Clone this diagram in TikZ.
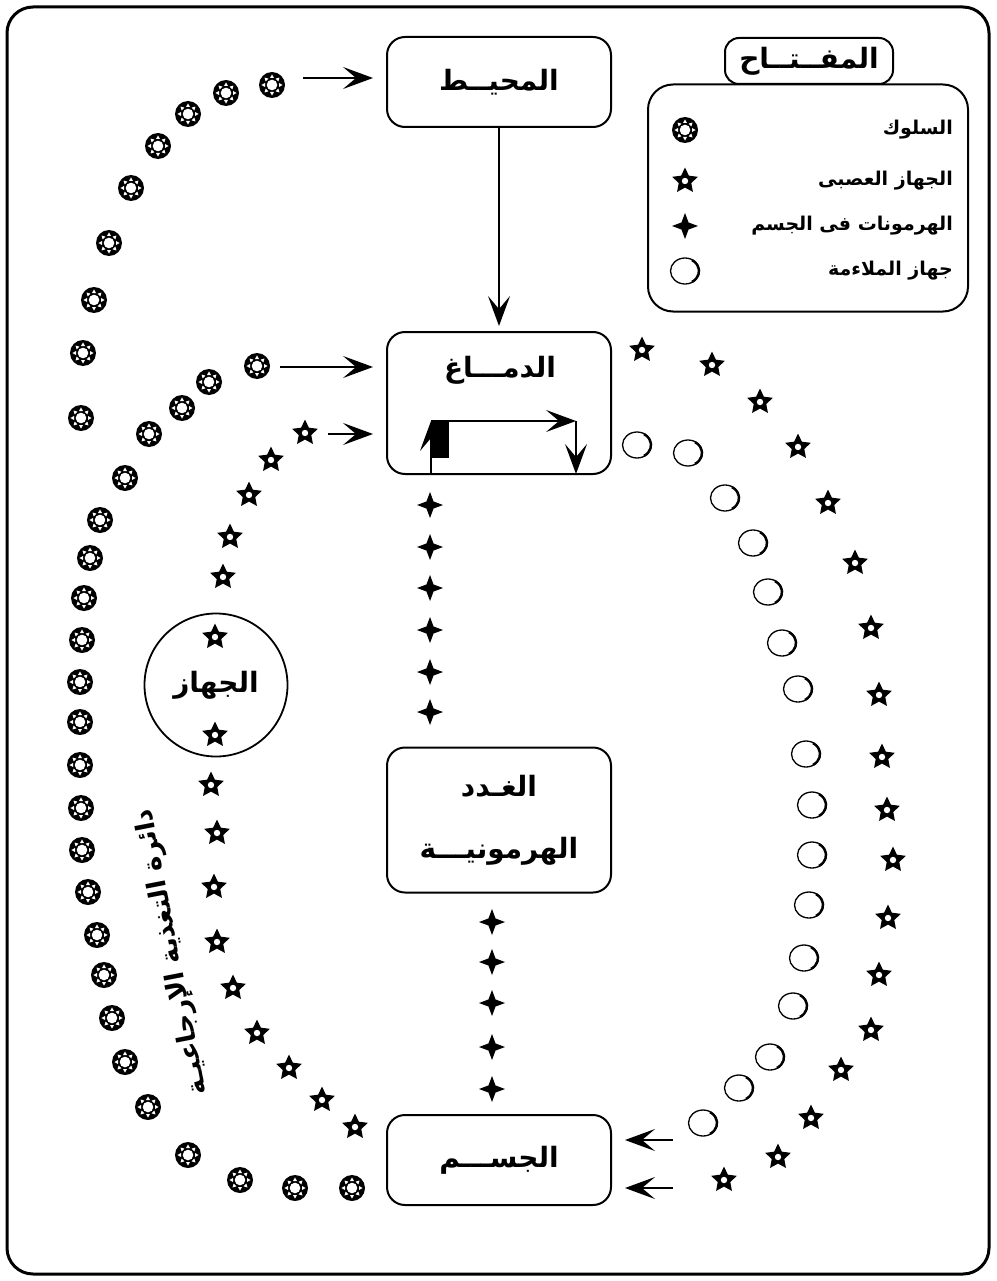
\documentclass[tikz,border=0pt]{standalone}
\usepackage{fontspec}
\newfontfamily\arabicfont[Script=Arabic]{DejaVu Sans}
\TeXXeTstate=1
\usetikzlibrary{shapes,arrows,arrows.meta}
\usetikzlibrary{positioning,shapes.geometric}
\newcommand{\artxt}[1]{\beginR #1\endR}
\tikzset{box/.style={draw, line width=2pt, rounded corners=18pt, minimum width=224pt,
    inner sep=0pt, align=center, font=\arabicfont\bfseries\fontsize{28}{62}\selectfont},
boxtext/.style={font=\arabicfont\bfseries\fontsize{28}{34}\selectfont},
keytext/.style={font=\arabicfont\bfseries\fontsize{19}{24}\selectfont, inner sep=0pt},
fbtext/.style={font=\arabicfont\bfseries\fontsize{26}{30}\selectfont, inner sep=0pt},
beh/.style={circle, fill=black, minimum size=26pt, inner sep=0pt},
nerv/.style={star, star points=5, star point ratio=2.05, fill=black, minimum size=27pt, inner sep=0pt},
horm/.style={star, star points=4, star point ratio=2.6, fill=black, minimum size=26pt, inner sep=0pt},
adapt/.style={ellipse, draw, line width=1.3pt, minimum width=29pt, minimum height=26pt, inner sep=0pt}
}
\newcommand{\behdots}[1]{\fill[white] (#1.center) circle (5.3pt);
    \foreach \a in {0,45,...,315}
        \fill[white, shift={(#1.center)}, rotate=\a] (7pt,2pt) -- (10.6pt,0pt) -- (7pt,-2pt) -- cycle;}
\newcommand{\nervdot}[1]{\fill[white] (#1.center) circle (3.2pt);}
\newcommand{\thickside}[1]{\draw[line width=2.4pt] (#1.center) ++(-60:14pt and 12.5pt)
    arc[start angle=-60, end angle=60, x radius=14pt, y radius=12.5pt];}

\begin{document}
\begin{tikzpicture}[> = {Stealth[length=30pt,width=22pt,inset=13pt]}, x=1pt, y=-1pt, on grid]
\useasboundingbox (0,0) rectangle (996,1281);
\draw[line width=3pt, rounded corners=26pt] (7,7) rectangle (989,1274);

% the four boxes
\node[box, minimum height=90pt] (env) at (499,82) {\artxt{المحيــط}};
\node[box, minimum height=142pt] (brain) [below=321pt of env] {};
\node[boxtext] (brain-t) at (500,370) {\artxt{الدمـــاغ}};
\node[box, minimum height=145pt] (glands) [below=417pt of brain] {\artxt{الغـدد}\\\artxt{الهرمونيـــة}};
\node[box, minimum height=90pt] (body) [below=340pt of glands] {\artxt{الجســـم}};

% loop inside the brain
\coordinate (lp1) at (431,474);
\coordinate (lp2) at (431,421);
\coordinate (lp3) at (576,421);
\coordinate (lp4) at (576,474);
\fill (431,421) rectangle (449,458);
\draw[->, line width=1.8pt] (lp1) -- (lp2);
\draw[->, line width=1.8pt] (lp2) -- (lp3);
\draw[->, line width=1.8pt] (lp3) -- (lp4);

% the device circle
\node[draw, circle, line width=1.8pt, minimum size=143pt, boxtext] (device) at (216,685) {\artxt{الجهاز}};

% behaviour
\foreach \x/\y [count=\i] in {272/85,226/93,188/114,158/146,131/188,109/243,94/300,83/353,81/418,
    257/366,209/382,182/408,149/434,125/478,100/520,90/558,84/598,
    82/640,80/682,80/722,80/765,81/808,82/850,88/892,97/935,104/975,112/1018,125/1062,
    148/1107,188/1155,240/1180,295/1188,352/1188}
    {\node[beh] (b\i) at (\x,\y) {};
    \behdots{b\i}}

% nervous system
\foreach \x/\y [count=\i] in {305/433,271/460,249/495,230/537,223/577,215/637,215/735,
    211/785,217/833,214/887,217/942,233/988,257/1033,289/1068,322/1100,355/1127,
    642/350,712/365,760/402,798/447,828/503,855/563,871/628,879/695,882/757,887/810,
    893/860,888/918,879/975,871/1030,841/1070,811/1118,778/1157,724/1180}
    {\node[nerv] (n\i) at (\x,\y) {};
    \nervdot{n\i}}

% hormones
\foreach \x/\y [count=\i] in {430/505,430/547,430/588,430/630,430/672,430/712,
    492/922,492/962,492/1003,492/1047,492/1089}
    \node[horm] (h\i) at (\x,\y) {};

% adaptation
\foreach \x/\y [count=\i] in {637/445,688/453,725/498,753/543,768/592,782/643,798/689,
    806/754,812/805,812/855,809/905,804/958,793/1006,770/1057,739/1088,703/1123}
    {\node[adapt] (a\i) at (\x,\y) {};
    \thickside{a\i}}

% connectors
\coordinate (in1) at (303,78);
\coordinate (in2) at (280,367);
\coordinate (in3) at (328,434);
\coordinate (in4) at (673,1140);
\coordinate (in5) at (673,1188);
\path[->, line width=1.8pt, shorten >=13pt]
    (in1) edge (in1 -| env.west)
    (in2) edge (in2 -| brain.west)
    (in3) edge (in3 -| brain.west)
    (in4) edge (in4 -| body.east)
    (in5) edge (in5 -| body.east);
\path[->, line width=1.8pt, shorten >=5pt] (env) edge (brain);

% feedback label
\node[fbtext, rotate=101] (fb) at (172,952) {\artxt{دائرة التغذية الإرجاعيـة}};

% key
\node[draw, line width=2pt, rounded corners=25pt, minimum width=320pt, minimum height=227pt] (key) at (808,198) {};
\node[draw, line width=2pt, fill=white, rounded corners=14pt, minimum width=168pt, minimum height=46pt,
    inner sep=0pt, boxtext] (keytab) at (809,61) {\artxt{المفــتــاح}};
\node[beh] (kb) at (685,130) {};
\behdots{kb}
\node[keytext, anchor=east] (k1) at (953,130) {\artxt{السلوك}};
\node[nerv] (kn) at (685,181) {};
\nervdot{kn}
\node[keytext, anchor=east] (k2) at (953,181) {\artxt{الجهاز العصبى}};
\node[horm] (kh) at (685,226) {};
\node[keytext, anchor=east] (k3) at (953,226) {\artxt{الهرمونات فى الجسم}};
\node[adapt] (ka) at (685,271) {};
\thickside{ka}
\node[keytext, anchor=east] (k4) at (953,271) {\artxt{جهاز الملاءمة}};
\end{tikzpicture}
\end{document}
